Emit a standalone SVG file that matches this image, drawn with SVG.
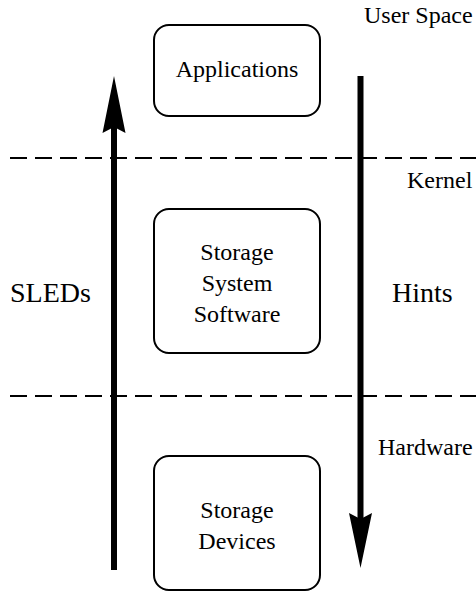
<svg xmlns="http://www.w3.org/2000/svg" width="476" height="592" viewBox="0 0 476 592">
<style>
.box{fill:#fff;stroke:#000;stroke-width:2}
.t{font-family:"Liberation Serif","Times New Roman",serif;font-size:24px;fill:#000}
.big{font-size:28px}
.dash{stroke:#000;stroke-width:2;stroke-dasharray:17 8;fill:none}
.shaft{stroke:#000;stroke-width:6;fill:none}
</style>
<rect width="476" height="592" fill="#fff"/>
<g id="separators">
<line class="dash" x1="10" y1="158" x2="476" y2="158"/>
<line class="dash" x1="10" y1="396" x2="476" y2="396"/>
</g>
<g id="region-labels" class="t">
<text x="364" y="23">User Space</text>
<text x="407" y="188">Kernel</text>
<text x="378" y="455">Hardware</text>
</g>
<g id="applications">
<rect class="box" x="154" y="25" width="166" height="91" rx="15"/>
<text class="t" x="237" y="77" text-anchor="middle">Applications</text>
</g>
<g id="storage-system-software">
<rect class="box" x="154" y="209" width="166" height="144" rx="15"/>
<text class="t" x="237" y="260" text-anchor="middle">Storage</text>
<text class="t" x="237" y="291" text-anchor="middle">System</text>
<text class="t" x="237" y="322" text-anchor="middle">Software</text>
</g>
<g id="storage-devices">
<rect class="box" x="154" y="456" width="166" height="134" rx="15"/>
<text class="t" x="237" y="518" text-anchor="middle">Storage</text>
<text class="t" x="237" y="549" text-anchor="middle">Devices</text>
</g>
<g id="connectors">
<line class="shaft" x1="114" y1="570" x2="114" y2="125"/>
<path d="M114 76 L125.5 133 L114 127 L102.5 133 Z" fill="#000"/>
<line class="shaft" x1="360.5" y1="76" x2="360.5" y2="520"/>
<path d="M360.5 568 L349 513 L360.5 519 L372 513 Z" fill="#000"/>
<text class="t big" x="10" y="302">SLEDs</text>
<text class="t big" x="392" y="302">Hints</text>
</g>
</svg>
